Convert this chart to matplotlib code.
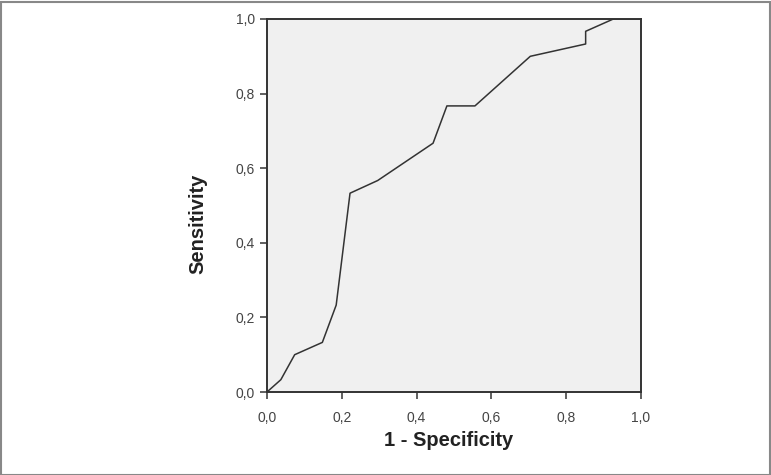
import numpy as np
import matplotlib.pyplot as plt
from matplotlib.patches import Rectangle

# ROC curve points
fpr = [0.0, 0.037, 0.074, 0.148, 0.185, 0.222, 0.296, 0.444, 0.481, 0.556,
       0.704, 0.852, 0.852, 0.926, 1.0]
tpr = [0.0, 0.033, 0.100, 0.133, 0.233, 0.533, 0.567, 0.667, 0.767, 0.767,
       0.900, 0.933, 0.967, 1.0, 1.0]
ticks = [0.0, 0.2, 0.4, 0.6, 0.8, 1.0]
tick_labels = ['0,0', '0,2', '0,4', '0,6', '0,8', '1,0']

plt.rcParams['font.family'] = ['Liberation Sans', 'DejaVu Sans']

W, H = 771, 475
fig = plt.figure(figsize=(W / 100, H / 100), dpi=100)
fig.patch.set_facecolor('white')

# gray frame round the whole picture
fig.patches.append(Rectangle((0.5 / W, 0.5 / H), 1 - 2 / W, 1 - 2 / H,
                             transform=fig.transFigure, fill=False,
                             edgecolor='#888888', linewidth=1.5))

ax = fig.add_axes([267 / W, (H - 392) / H, (641 - 267) / W, (392 - 19) / H])
ax.set_facecolor('#f0f0f0')
ax.plot(fpr, tpr, color='#333333', linewidth=1.1)

ax.set_xlim(0, 1)
ax.set_ylim(0, 1)
ax.set_xticks(ticks)
ax.set_yticks(ticks)
ax.set_xticklabels(tick_labels)
ax.set_yticklabels(tick_labels)
ax.tick_params(direction='out', length=5, width=1.2, color='#444444',
               labelcolor='#444444', labelsize=10, pad=3.5)
ax.tick_params(axis='x', pad=9)
for s in ax.spines.values():
    s.set_color('#333333')
    s.set_linewidth(1.4)

fig.text(449 / W, 1 - 440 / H, '1 - Specificity', ha='center', va='center',
         fontsize=14.5, fontweight='bold', color='#222222')
fig.text(198 / W, 1 - 224 / H, 'Sensitivity', ha='center', va='center',
         rotation=90, fontsize=14.5, fontweight='bold', color='#222222')

fig.savefig('out.png', dpi=100)
